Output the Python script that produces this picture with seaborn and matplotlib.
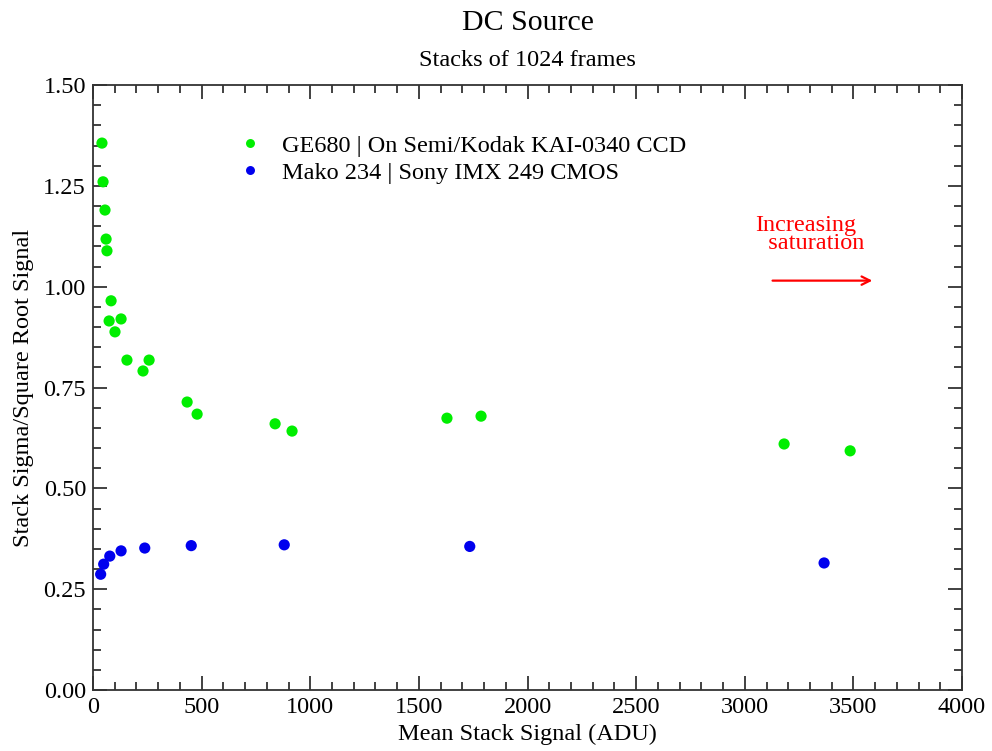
import numpy as np
import pandas as pd
import matplotlib
matplotlib.use("Agg")
import matplotlib.pyplot as plt
from matplotlib.ticker import MultipleLocator
import seaborn as sns

# data
ge680_signal = [41, 46, 55, 60, 64, 83, 74, 101, 129, 156, 230, 258,
                433, 479, 838, 916, 1629, 1786, 3181, 3485]
ge680_ratio = [1.356, 1.260, 1.190, 1.118, 1.089, 0.965, 0.915, 0.888, 0.920,
               0.818, 0.791, 0.818, 0.714, 0.684, 0.660, 0.642, 0.674, 0.679,
               0.610, 0.593]

mako_signal = [35, 49, 77, 129, 238, 452, 880, 1734, 3365]
mako_ratio = [0.287, 0.312, 0.332, 0.345, 0.352, 0.358, 0.360, 0.356, 0.315]

ge_label = "GE680 | On Semi/Kodak KAI-0340 CCD"
mako_label = "Mako 234 | Sony IMX 249 CMOS"

df = pd.concat([
    pd.DataFrame({"signal": ge680_signal, "ratio": ge680_ratio, "camera": ge_label}),
    pd.DataFrame({"signal": mako_signal, "ratio": mako_ratio, "camera": mako_label}),
])

sns.set_style("ticks")
plt.rcParams['font.family'] = ['Liberation Serif', 'DejaVu Serif']
plt.rcParams['text.color'] = 'black'
plt.rcParams['axes.labelcolor'] = 'black'

fig = plt.figure(figsize=(9.92, 7.51), dpi=100)
ax = fig.add_axes([0.0938, 0.0812, 0.876, 0.8056])

sns.scatterplot(data=df, x="signal", y="ratio", hue="camera",
                palette={ge_label: "#00ee00", mako_label: "#0000ee"},
                s=65, edgecolor="none", ax=ax)

ax.set_xlim(0, 4000)
ax.set_ylim(0, 1.5)
ax.xaxis.set_major_locator(MultipleLocator(500))
ax.xaxis.set_minor_locator(MultipleLocator(100))
ax.yaxis.set_major_locator(MultipleLocator(0.25))
ax.yaxis.set_minor_locator(MultipleLocator(0.05))
ax.yaxis.set_major_formatter(matplotlib.ticker.FormatStrFormatter("%.2f"))

ax.tick_params(which="both", direction="in", top=True, right=True,
               width=1.3, labelsize=17.5, color="#333333", labelcolor="black")
ax.tick_params(which="major", length=10, pad=5)
ax.tick_params(which="minor", length=6)
for sp in ax.spines.values():
    sp.set_linewidth(1.3)
    sp.set_color("#333333")

ax.set_xlabel("Mean Stack Signal (ADU)", fontsize=17.5, labelpad=4)
ax.set_ylabel("Stack Sigma/Square Root Signal", fontsize=17.5, labelpad=7)

fig.text(0.532, 0.969, "DC Source", ha="center", va="center", fontsize=21.5)
fig.text(0.532, 0.919, "Stacks of 1024 frames", ha="center", va="center", fontsize=17.5)

leg = ax.legend(loc="upper left", bbox_to_anchor=(0.142, 0.934), frameon=False,
                fontsize=17.5, handletextpad=0.3, borderaxespad=0,
                labelspacing=0.2, markerscale=0.8)

ax.annotate("", xy=(3600, 1.015), xytext=(3115, 1.015),
            arrowprops=dict(arrowstyle="->", color="red", lw=1.6,
                            mutation_scale=15))
ax.text(3050, 1.178, "Increasing\n  saturation", color="red", fontsize=17.5,
        ha="left", va="top", linespacing=0.85)

fig.savefig("out.png", dpi=100)
